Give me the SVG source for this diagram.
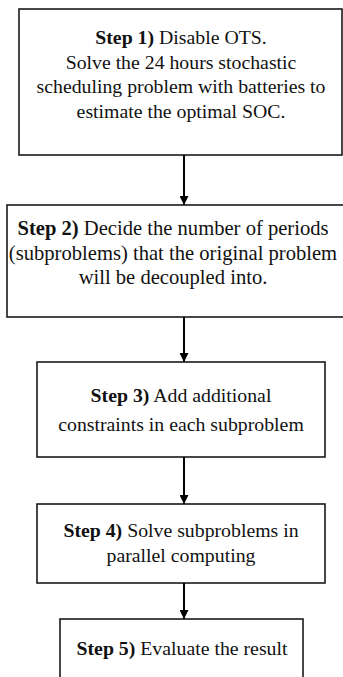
<svg xmlns="http://www.w3.org/2000/svg" width="343" height="677" viewBox="0 0 343 677">
  <style>
    .box { fill: #ffffff; stroke: #1a1a1a; stroke-width: 1.6; }
    .txt { font-size: 19.8px; fill: #111111; text-anchor: middle; }
    .big { font-size: 20.6px; }
    .b { font-weight: bold; }
    .link { stroke: #000000; stroke-width: 2; fill: none; marker-end: url(#head); }
  </style>
  <defs>
    <marker id="head" viewBox="0 0 10 10" refX="10" refY="5" markerWidth="5" markerHeight="4.5" orient="auto" markerUnits="strokeWidth">
      <path d="M0,0 L10,5 L0,10 Z" fill="#000000"/>
    </marker>
  </defs>
  <rect width="343" height="677" fill="#ffffff"/>

  <g id="nodes" font-family="Liberation Serif, Times New Roman, serif">
    <g id="step1">
      <rect class="box" x="19" y="9" width="323" height="146"/>
      <text class="txt" x="181" y="44"><tspan class="b">Step 1)</tspan> Disable OTS.</text>
      <text class="txt" x="181" y="68.5">Solve the 24 hours stochastic</text>
      <text class="txt" x="181" y="93">scheduling problem with batteries to</text>
      <text class="txt" x="181" y="117.5">estimate the optimal SOC.</text>
    </g>

    <g id="step2">
      <rect class="box" x="7" y="205" width="340" height="112"/>
      <text class="txt big" x="173" y="235"><tspan class="b">Step 2)</tspan> Decide the number of periods</text>
      <text class="txt big" x="173" y="259.5">(subproblems) that the original problem</text>
      <text class="txt big" x="173" y="284">will be decoupled into.</text>
    </g>

    <g id="step3">
      <rect class="box" x="37" y="362" width="288" height="95"/>
      <text class="txt" x="181" y="402"><tspan class="b">Step 3)</tspan> Add additional</text>
      <text class="txt" x="181" y="431">constraints in each subproblem</text>
    </g>

    <g id="step4">
      <rect class="box" x="37" y="504" width="288" height="79"/>
      <text class="txt" x="181" y="537"><tspan class="b">Step 4)</tspan> Solve subproblems in</text>
      <text class="txt" x="181" y="562">parallel computing</text>
    </g>

    <g id="step5">
      <rect class="box" x="60" y="619" width="243" height="70"/>
      <text class="txt" x="182" y="655"><tspan class="b">Step 5)</tspan> Evaluate the result</text>
    </g>
  </g>

  <g id="connectors">
    <line class="link" x1="184" y1="155" x2="184" y2="205"/>
    <line class="link" x1="184" y1="317" x2="184" y2="362"/>
    <line class="link" x1="184" y1="457" x2="184" y2="504"/>
    <line class="link" x1="184" y1="583" x2="184" y2="619"/>
  </g>
</svg>
